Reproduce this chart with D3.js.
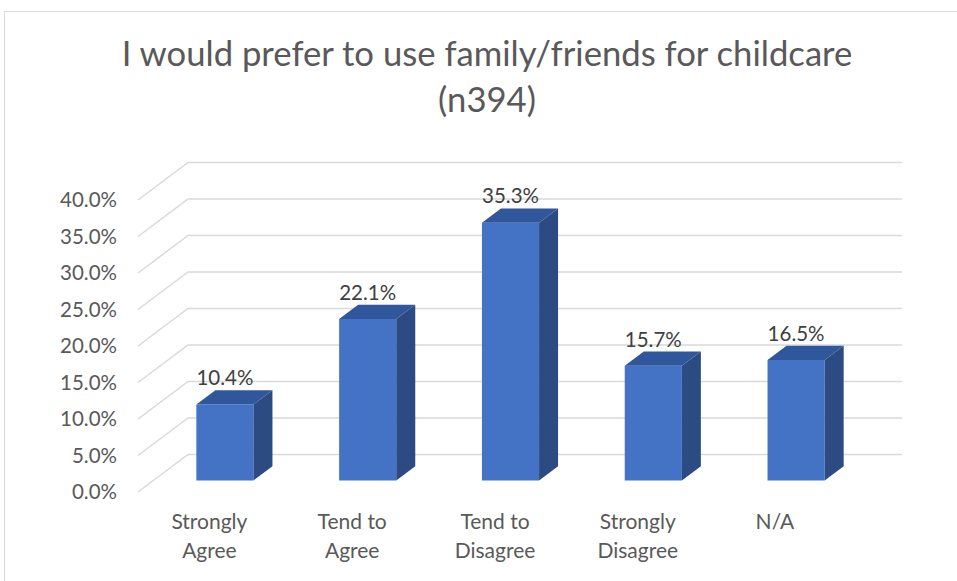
<!DOCTYPE html>
<html>
<head>
<meta charset="utf-8">
<script src="https://cdn.jsdelivr.net/npm/d3@7"></script>
<style>
  body { margin: 0; background: #fff; }
  svg text { font-family: Lato, "Liberation Sans", sans-serif; }
</style>
</head>
<body>
<div id="chart"></div>
<script>
// data
let categories = ["Strongly Agree", "Tend to Agree", "Tend to Disagree", "Strongly Disagree", "N/A"];
let values = [10.4, 22.1, 35.3, 15.7, 16.5];
let tickValues = [0, 5, 10, 15, 20, 25, 30, 35, 40];
let titleLines = ["I would prefer to use family/friends for childcare", "(n394)"];

let width = 957, height = 581;

// plot box: front edge of the floor, plus the 3d depth vector
let plotLeft = 138, plotRight = 852, plotBottom = 492, plotTop = 200;
let depthX = 50, depthY = -37.5;
let barDepthStart = 0.31, barDepthEnd = 0.69;

let svg = d3.select("#chart").append("svg")
  .attr("width", width)
  .attr("height", height);

// outer chart border (runs off the right and bottom edges)
svg.append("rect")
  .attr("x", 4.5).attr("y", 11.5)
  .attr("width", width).attr("height", height)
  .attr("fill", "none")
  .attr("stroke", "#d9d9d9");

let x = d3.scaleBand().domain(categories).range([plotLeft, plotRight]).padding(0);
let y = d3.scaleLinear().domain([0, 40]).range([plotBottom, plotTop]);

// gridlines: diagonal on the side wall, horizontal on the back wall
let grid = svg.append("g");
tickValues.forEach(function(t) {
  let y0 = y(t);
  grid.append("path")
    .attr("d", "M" + plotLeft + "," + y0 +
               "L" + (plotLeft + depthX) + "," + (y0 + depthY) +
               "L" + (plotRight + depthX) + "," + (y0 + depthY))
    .attr("fill", "none")
    .attr("stroke", "#d9d9d9")
    .attr("stroke-width", 1.5);
});

// y axis labels
let yAxis = d3.axisLeft(y)
  .tickValues(tickValues)
  .tickSize(0)
  .tickPadding(21)
  .tickFormat(function(d) { return d.toFixed(1) + "%"; });

let axisG = svg.append("g")
  .attr("transform", "translate(" + plotLeft + ",0)")
  .call(yAxis);
axisG.select(".domain").remove();
axisG.selectAll("text")
  .attr("fill", "#595959")
  .style("font-size", "20.5px")
  .style("font-family", "Lato, 'Liberation Sans', sans-serif");

// bars
let barW = x.bandwidth() * 0.4;
let fx = barDepthStart * depthX, fy = barDepthStart * depthY;
let dx = (barDepthEnd - barDepthStart) * depthX;
let dy = (barDepthEnd - barDepthStart) * depthY;

let bars = svg.append("g").selectAll("g")
  .data(values)
  .enter()
  .append("g");

bars.each(function(v, i) {
  let g = d3.select(this);
  let x0 = x(categories[i]) + (x.bandwidth() - barW) / 2 + fx;
  let x1 = x0 + barW;
  let yb = y(0) + fy;
  let yt = y(v) + fy;

  // front face
  g.append("path")
    .attr("d", "M" + x0 + "," + yb + "L" + x1 + "," + yb + "L" + x1 + "," + yt + "L" + x0 + "," + yt + "Z")
    .attr("fill", "#4472c4");
  // side face
  g.append("path")
    .attr("d", "M" + x1 + "," + yb + "L" + (x1 + dx) + "," + (yb + dy) +
               "L" + (x1 + dx) + "," + (yt + dy) + "L" + x1 + "," + yt + "Z")
    .attr("fill", "#2b4b82");
  // top face
  g.append("path")
    .attr("d", "M" + x0 + "," + yt + "L" + x1 + "," + yt +
               "L" + (x1 + dx) + "," + (yt + dy) + "L" + (x0 + dx) + "," + (yt + dy) + "Z")
    .attr("fill", "#30569c");

  // value label
  g.append("text")
    .attr("x", (x0 + x1) / 2)
    .attr("y", yt + dy - 5)
    .attr("text-anchor", "middle")
    .attr("fill", "#404040")
    .style("font-size", "20.5px")
    .text(v.toFixed(1) + "%");
});

// category labels, two lines each, centred on the front plane
categories.forEach(function(c) {
  let words = c.split(" ");
  let lines = words.length > 1 ? [words.slice(0, -1).join(" "), words[words.length - 1]] : [c];
  let t = svg.append("text")
    .attr("x", x(c) + x.bandwidth() / 2)
    .attr("y", 529)
    .attr("text-anchor", words.length > 1 ? "middle" : "start")
    .attr("fill", "#595959")
    .style("font-size", "21px");
  if (words.length == 1) t.attr("x", x(c) + x.bandwidth() / 2 - 25);
  lines.forEach(function(l, k) {
    t.append("tspan")
      .attr("x", t.attr("x"))
      .attr("dy", k == 0 ? 0 : 29)
      .text(l);
  });
});

// title, sized so the first line spans the same width as the reference
let title = svg.append("g");
titleLines.forEach(function(l, k) {
  title.append("text")
    .attr("x", 487)
    .attr("y", 66 + k * 46)
    .attr("text-anchor", "middle")
    .attr("fill", "#595959")
    .style("font-size", "32px")
    .text(l);
});
let w0 = title.select("text").node().getComputedTextLength();
title.selectAll("text").style("font-size", (32 * 731 / w0) + "px");
</script>
</body>
</html>
